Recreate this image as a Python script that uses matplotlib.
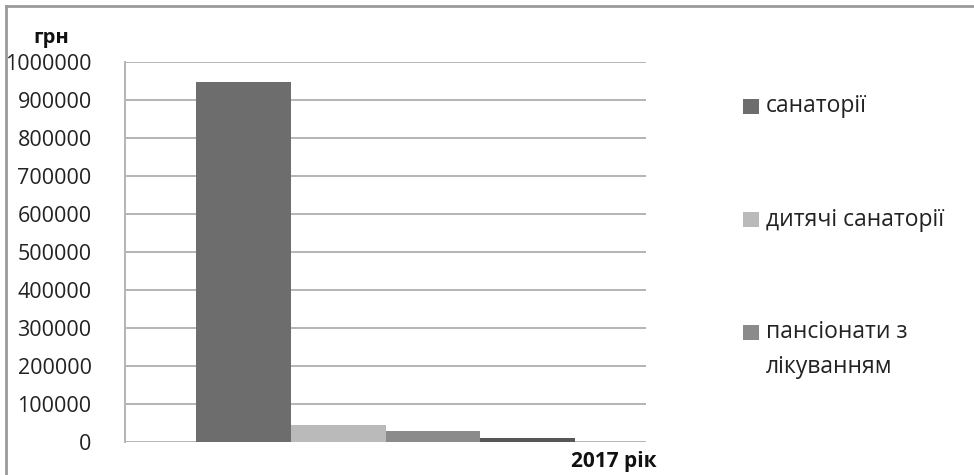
import numpy as np
import matplotlib.pyplot as plt
from matplotlib.lines import Line2D
from matplotlib.patches import Rectangle

plt.rcParams['font.family'] = ['Open Sans', 'DejaVu Sans']

# data (грн, 2017)
series = ['санаторії', 'дитячі санаторії', 'пансіонати з\nлікуванням', '']
values = [947000, 46000, 30000, 10000]
colors = ['#6d6d6d', '#bababa', '#8b8b8b', '#575757']
yticks = [0, 100000, 200000, 300000, 400000, 500000, 600000, 700000, 800000, 900000, 1000000]

W, H = 974, 475
fig = plt.figure(figsize=(W / 100, H / 100), dpi=100)
ax = fig.add_axes([125 / W, 33 / H, 521 / W, 380 / H])

w = 1 / 5.5
offs = (np.arange(len(values)) - (len(values) - 1) / 2) * w
for i in range(len(values)):
    ax.bar(offs[i], values[i], width=w, color=colors[i], zorder=3)

ax.set_xlim(-0.5, 0.5)
ax.set_ylim(0, 1000000)
ax.set_yticks(yticks)
ax.set_yticklabels([str(t) for t in yticks])
ax.set_xticks([])
ax.tick_params(axis='y', length=0, pad=24, labelsize=15.5, labelcolor='#222222')
ax.grid(axis='y', color='#b4b4b4', linewidth=1.4, zorder=0)
for s in ['top', 'right', 'bottom']:
    ax.spines[s].set_visible(False)
ax.spines['left'].set_color('#b4b4b4')
ax.spines['left'].set_linewidth(1.4)

fig.text(51 / W, 1 - 38 / H, 'грн', ha='center', va='center', fontsize=14.5, fontweight='bold', color='#111111')
fig.text(657 / W, 1 - 461 / H, '2017 рік', ha='right', va='center', fontsize=15, fontweight='bold', color='#111111')

# legend (only the first three entries are visible in the picture)
leg_y = [106, 220, 332]
for i in range(3):
    fig.add_artist(Rectangle((743 / W, 1 - (leg_y[i] + 7.5) / H), 16 / W, 15 / H,
                             transform=fig.transFigure, color=colors[i], lw=0))
    nl = series[i].count('\n')
    fig.text(766 / W, 1 - (leg_y[i] + nl * 17.5) / H, series[i], ha='left', va='center',
             fontsize=16.5, color='#222222', linespacing=1.59)

fig.add_artist(Line2D([6 / W, 973 / W], [1 - 6 / H, 1 - 6 / H], color='#9a9a9a', linewidth=2))
fig.add_artist(Line2D([6 / W, 6 / W], [0, 1 - 6 / H], color='#9a9a9a', linewidth=2))

fig.savefig('out.png', dpi=100)
